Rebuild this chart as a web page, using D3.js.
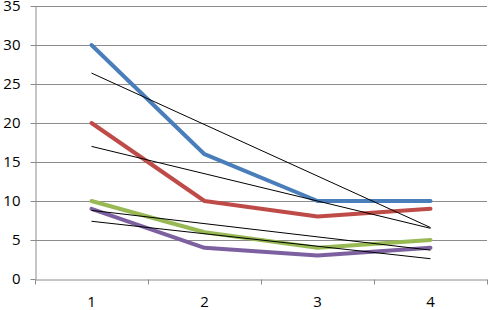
<!DOCTYPE html>
<html>
<head>
<meta charset="utf-8">
<script src="https://cdn.jsdelivr.net/npm/d3@7"></script>
<style>
body{margin:0;background:#fff;}
text{font-family:"Open Sans","Liberation Sans",sans-serif;font-size:15px;fill:#000;}
</style>
</head>
<body>
<svg id="chart" width="488" height="310"></svg>
<script>
const categories = [1, 2, 3, 4];
const blueVals = [30, 16, 10, 10];
const redVals = [20, 10, 8, 9];
const greenVals = [10, 6, 4, 5];
const purpleVals = [9, 4, 3, 4];
const yTicks = [0, 5, 10, 15, 20, 25, 30, 35];

const series = [
    {name:"blue", vals:blueVals, color:"#4a7ebb"},
    {name:"red", vals:redVals, color:"#be4b48"},
    {name:"green", vals:greenVals, color:"#98b954"},
    {name:"purple", vals:purpleVals, color:"#7d60a0"}
];

const svg = d3.select("#chart");
const plotLeft = 35, plotRight = 487, plotTop = 6, plotBottom = 279;

const x = d3.scaleBand().domain(categories).range([plotLeft, plotRight]);
const y = d3.scaleLinear().domain([0, 35]).range([plotBottom, plotTop]);
const cx = d => x(d) + x.bandwidth() / 2;

// gridlines
svg.append("g").selectAll("line")
    .data(yTicks.filter(t => t > 0))
    .join("line")
    .attr("x1", plotLeft).attr("x2", plotRight)
    .attr("y1", d => Math.round(y(d)) + 0.5).attr("y2", d => Math.round(y(d)) + 0.5)
    .attr("stroke", "#8c8c8c").attr("stroke-width", 1);

// y axis
const yAxis = svg.append("g")
    .attr("transform", `translate(${plotLeft + 0.5},0)`)
    .call(d3.axisLeft(y).tickValues(yTicks).tickSize(5).tickPadding(10).tickSizeOuter(0));
yAxis.select(".domain").attr("stroke", "#8c8c8c");
yAxis.selectAll(".tick line").attr("stroke", "#8c8c8c");
yAxis.selectAll("text").style("font-size", "15px").attr("fill", "#000");

// x axis
const xAxis = svg.append("g")
    .attr("transform", `translate(0,${Math.round(plotBottom) + 0.5})`)
    .call(d3.axisBottom(x).tickSize(0).tickPadding(17));
xAxis.select(".domain").attr("stroke", "#8c8c8c");
xAxis.selectAll("text").style("font-size", "15px").attr("fill", "#000");
// boundary ticks
xAxis.append("g").selectAll("line")
    .data(categories.map(c => x(c)).concat([plotRight]))
    .join("line")
    .attr("x1", d => Math.round(d) + 0.5).attr("x2", d => Math.round(d) + 0.5)
    .attr("y1", 0).attr("y2", 5)
    .attr("stroke", "#8c8c8c");

// series lines
const line = d3.line().x((d, i) => cx(categories[i])).y(d => y(d));
svg.append("g").selectAll("path")
    .data(series)
    .join("path")
    .attr("d", d => line(d.vals))
    .attr("fill", "none")
    .attr("stroke", d => d.color)
    .attr("stroke-width", 4)
    .attr("stroke-linejoin", "round")
    .attr("stroke-linecap", "round");

// linear trendlines
function trend(vals) {
    const mx = d3.mean(categories), my = d3.mean(vals);
    const slope = d3.sum(categories, (c, i) => (c - mx) * (vals[i] - my)) /
                  d3.sum(categories, c => (c - mx) ** 2);
    const first = categories[0], last = categories[categories.length - 1];
    return [[first, my + slope * (first - mx)], [last, my + slope * (last - mx)]];
}
svg.append("g").selectAll("path")
    .data(series)
    .join("path")
    .attr("d", d => d3.line().x(p => cx(p[0])).y(p => y(p[1]))(trend(d.vals)))
    .attr("fill", "none")
    .attr("stroke", "#000")
    .attr("stroke-width", 1);
</script>
</body>
</html>
